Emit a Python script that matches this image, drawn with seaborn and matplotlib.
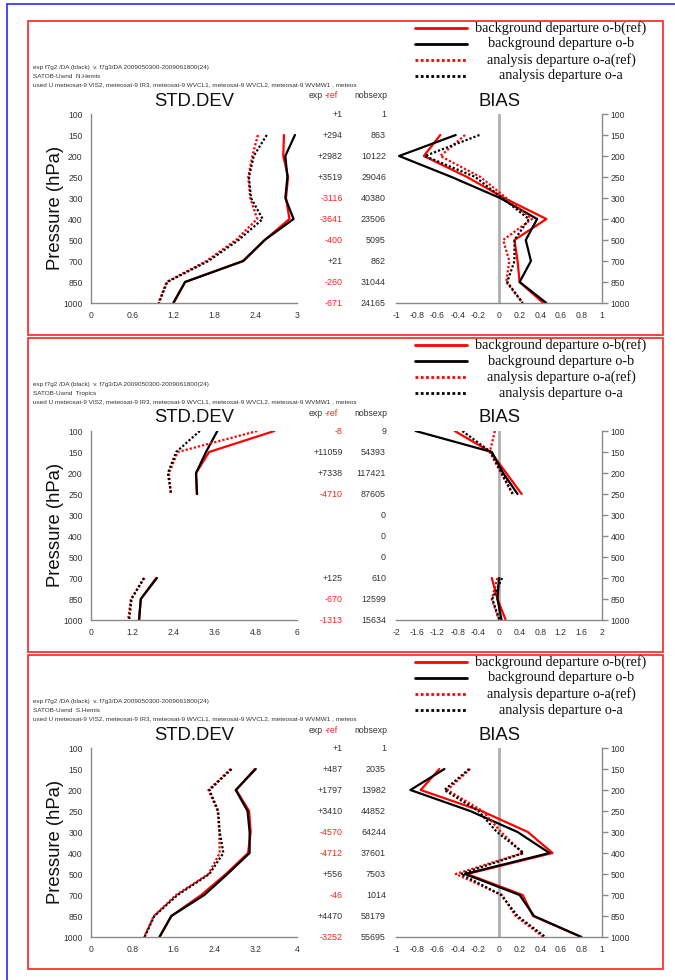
import numpy as np
import pandas as pd
import matplotlib
matplotlib.use("Agg")
import matplotlib.pyplot as plt
import matplotlib.transforms as mtransforms
from matplotlib.lines import Line2D
from matplotlib.patches import Rectangle
from matplotlib.ticker import FuncFormatter
import seaborn as sns

nan = np.nan

# ---------------- data ----------------
levels = [100, 150, 200, 250, 300, 400, 500, 700, 850, 1000]
series_names = ["background departure o-b(ref)", "background departure o-b",
                "analysis departure o-a(ref)", "analysis departure o-a"]
regions = ["N.Hemis", "Tropics", "S.Hemis"]

# N.Hemis
nh_std_obref = [nan, 2.81, 2.80, 2.87, 2.84, 2.89, 2.53, 2.21, 1.37, 1.20]
nh_std_ob = [nan, 2.97, 2.83, 2.86, 2.83, 2.95, 2.53, 2.22, 1.37, 1.20]
nh_std_oaref = [nan, 2.43, 2.35, 2.29, 2.32, 2.42, 2.11, 1.68, 1.10, 0.98]
nh_std_oa = [nan, 2.56, 2.37, 2.30, 2.33, 2.50, 2.15, 1.71, 1.11, 0.99]
nh_bias_obref = [nan, -0.57, -0.73, -0.31, 0.05, 0.46, 0.15, 0.18, 0.20, 0.43]
nh_bias_ob = [nan, -0.42, -0.97, -0.46, 0.01, 0.37, 0.26, 0.31, 0.20, 0.46]
nh_bias_oaref = [nan, -0.33, -0.57, -0.18, 0.07, 0.32, 0.04, 0.10, 0.07, 0.23]
nh_bias_oa = [nan, -0.19, -0.72, -0.23, 0.03, 0.29, 0.15, 0.15, 0.08, 0.23]
nh_expref = ["+1", "+294", "+2982", "+3519", "-3116", "-3641", "-400", "+21", "-260", "-671"]
nh_nobs = ["1", "863", "10122", "29046", "40380", "23506", "5095", "862", "31044", "24165"]

# Tropics
tr_std_obref = [5.34, 3.44, 3.06, 3.08, nan, nan, nan, 1.90, 1.45, 1.40]
tr_std_ob = [3.68, 3.35, 3.06, 3.09, nan, nan, nan, 1.92, 1.45, 1.40]
tr_std_oaref = [4.84, 2.53, 2.27, 2.33, nan, nan, nan, 1.56, 1.16, 1.08]
tr_std_oa = [3.17, 2.48, 2.24, 2.33, nan, nan, nan, 1.54, 1.18, 1.11]
tr_bias_obref = [-0.86, -0.16, 0.14, 0.44, nan, nan, nan, -0.14, -0.03, 0.13]
tr_bias_ob = [-1.62, -0.14, 0.08, 0.36, nan, nan, nan, 0.00, -0.03, 0.05]
tr_bias_oaref = [-0.08, -0.18, 0.04, 0.26, nan, nan, nan, -0.03, -0.14, 0.00]
tr_bias_oa = [-0.71, -0.16, 0.05, 0.27, nan, nan, nan, 0.06, -0.13, 0.01]
tr_expref = ["-8", "+11059", "+7338", "-4710", "", "", "", "+125", "-670", "-1313"]
tr_nobs = ["9", "54393", "117421", "87605", "0", "0", "0", "610", "12599", "15634"]

# S.Hemis
sh_std_obref = [nan, 3.18, 2.82, 3.07, 3.10, 3.05, 2.62, 2.14, 1.56, 1.33]
sh_std_ob = [nan, 3.20, 2.81, 3.04, 3.08, 3.08, 2.65, 2.20, 1.56, 1.33]
sh_std_oaref = [nan, 2.71, 2.28, 2.46, 2.49, 2.50, 2.28, 1.65, 1.22, 1.03]
sh_std_oa = [nan, 2.73, 2.30, 2.47, 2.50, 2.57, 2.30, 1.68, 1.23, 1.04]
sh_bias_obref = [nan, -0.58, -0.76, -0.17, 0.28, 0.52, -0.31, 0.23, 0.33, 0.80]
sh_bias_ob = [nan, -0.53, -0.86, -0.28, 0.18, 0.49, -0.33, 0.20, 0.34, 0.80]
sh_bias_oaref = [nan, -0.28, -0.50, -0.16, 0.02, 0.23, -0.42, 0.03, 0.16, 0.43]
sh_bias_oa = [nan, -0.29, -0.53, -0.20, -0.02, 0.24, -0.37, 0.02, 0.18, 0.45]
sh_expref = ["+1", "+487", "+1797", "+3410", "-4570", "-4712", "+556", "-46", "+4470", "-3252"]
sh_nobs = ["1", "2035", "13982", "44852", "64244", "37601", "7503", "1014", "58179", "55695"]

std_ticks = [[0, 0.6, 1.2, 1.8, 2.4, 3],
             [0, 1.2, 2.4, 3.6, 4.8, 6],
             [0, 0.8, 1.6, 2.4, 3.2, 4]]
bias_ticks = [[-1, -0.8, -0.6, -0.4, -0.2, 0, 0.2, 0.4, 0.6, 0.8, 1],
              [-2, -1.6, -1.2, -0.8, -0.4, 0, 0.4, 0.8, 1.2, 1.6, 2],
              [-1, -0.8, -0.6, -0.4, -0.2, 0, 0.2, 0.4, 0.6, 0.8, 1]]

panels = [
    dict(std=[nh_std_obref, nh_std_ob, nh_std_oaref, nh_std_oa],
         bias=[nh_bias_obref, nh_bias_ob, nh_bias_oaref, nh_bias_oa],
         expref=nh_expref, nobs=nh_nobs),
    dict(std=[tr_std_obref, tr_std_ob, tr_std_oaref, tr_std_oa],
         bias=[tr_bias_obref, tr_bias_ob, tr_bias_oaref, tr_bias_oa],
         expref=tr_expref, nobs=tr_nobs),
    dict(std=[sh_std_obref, sh_std_ob, sh_std_oaref, sh_std_oa],
         bias=[sh_bias_obref, sh_bias_ob, sh_bias_oaref, sh_bias_oa],
         expref=sh_expref, nobs=sh_nobs),
]

header1 = "exp f7g2 /DA (black)  v. f7g3/DA 2009050300-2009061800(24)"
header3 = ("used U meteosat-9 VIS2, meteosat-9 IR3, meteosat-9 WVCL1, "
           "meteosat-9 WVCL2, meteosat-9 WVMW1 , meteos")

# ---------------- style ----------------
sns.set_style("white")
plt.rcParams["font.family"] = ["Liberation Sans", "DejaVu Sans"]

colors = {series_names[0]: "#ff0000", series_names[1]: "#000000",
          series_names[2]: "#ff0000", series_names[3]: "#000000"}
dot = (1.0, 0.9)
dashes = {series_names[0]: "", series_names[1]: "",
          series_names[2]: dot, series_names[3]: dot}

W, H = 675, 980
fig = plt.figure(figsize=(W / 100, H / 100), dpi=100)


def fx(x):
    return x / W


def fy(y):
    return 1 - y / H


def long_df(vals_list):
    rows = []
    for name, vals in zip(series_names, vals_list):
        seg = 0
        for i, v in enumerate(vals):
            if np.isnan(v):
                seg += 1
                continue
            rows.append(dict(series=name, pos=i, value=v, seg=seg))
    return pd.DataFrame(rows)


def fmt(v, p):
    s = f"{v:.1f}".rstrip("0").rstrip(".")
    return "0" if s in ("-0", "") else s


AX_GRAY = "#8a8a8a"
TXT_GRAY = "#333333"

# blue outer frame
fig.add_artist(Line2D([fx(7), fx(7)], [fy(4), 0], transform=fig.transFigure,
                      color="#3a3aff", lw=1.3))
fig.add_artist(Line2D([fx(7), 1], [fy(4), fy(4)], transform=fig.transFigure,
                      color="#3a3aff", lw=1.3))

for k, pan in enumerate(panels):
    off = 317 * k
    # red panel frame
    fig.add_artist(Rectangle((fx(28), fy(335 + off)), (663 - 28) / W, (335 - 21) / H,
                             transform=fig.transFigure, fill=False,
                             ec="#ff3030", lw=1.3))
    # header text
    fig.text(fx(33), fy(67 + off), header1, fontsize=4.6, color=TXT_GRAY, va="center")
    fig.text(fx(33), fy(76 + off), "SATOB-Uwnd  " + regions[k], fontsize=4.6,
             color=TXT_GRAY, va="center")
    fig.text(fx(33), fy(85 + off), header3, fontsize=4.6, color=TXT_GRAY, va="center")

    # legend (manual)
    for j, name in enumerate(series_names):
        yy = fy(28 + 16 * j + off)
        ls = "-" if j < 2 else (0, dot)
        fig.add_artist(Line2D([fx(415), fx(467)], [yy, yy], transform=fig.transFigure,
                              color=colors[name], lw=2.0, linestyle=ls))
        fig.text(fx(561), yy, name, family=["Liberation Serif", "DejaVu Serif"],
                 fontsize=10.2, ha="center", va="center", color="#111111")

    top, bot = 114 + off, 303 + off
    ax_s = fig.add_axes([fx(91), fy(bot), (297 - 91) / W, (bot - top) / H])
    ax_b = fig.add_axes([fx(396), fy(bot), (602 - 396) / W, (bot - top) / H])

    for ax, vals, ticks in ((ax_s, pan["std"], std_ticks[k]),
                            (ax_b, pan["bias"], bias_ticks[k])):
        df = long_df(vals)
        if ax is ax_b:
            ax.axvline(0, color="#b0b0b0", lw=2.0, zorder=0)
        sns.lineplot(data=df, x="value", y="pos", hue="series", style="series",
                     units="seg", estimator=None, sort=False, orient="y",
                     hue_order=series_names, style_order=series_names,
                     palette=colors, dashes=dashes, linewidth=1.6,
                     legend=False, ax=ax)
        ax.set_xlabel("")
        ax.set_ylabel("")
        ax.set_ylim(len(levels) - 1, 0)
        ax.set_yticks(range(len(levels)))
        ax.set_yticklabels([str(l) for l in levels])
        ax.set_xlim(ticks[0], ticks[-1])
        ax.set_xticks(ticks)
        ax.xaxis.set_major_formatter(FuncFormatter(fmt))
        ax.set_facecolor("none")
        ax.tick_params(axis="both", direction="out", length=4, width=1,
                       color=AX_GRAY, labelsize=6.2, labelcolor=TXT_GRAY, pad=2)
        for sp in ax.spines.values():
            sp.set_color(AX_GRAY)
            sp.set_linewidth(1.0)
        ax.spines["top"].set_visible(False)

    ax_s.spines["right"].set_visible(False)
    ax_b.spines["left"].set_visible(False)
    ax_b.yaxis.tick_right()
    ax_b.tick_params(axis="y", left=False, right=True)

    # titles
    fig.text(fx(194), fy(101 + off), "STD.DEV", fontsize=13.3, ha="center",
             va="center", color="#111111")
    fig.text(fx(499), fy(101 + off), "BIAS", fontsize=13.3, ha="center",
             va="center", color="#111111")
    fig.text(fx(55), fy(208 + off), "Pressure (hPa)", fontsize=13.3, rotation=90,
             ha="center", va="center", color="#111111")

    # middle columns
    fig.text(fx(323), fy(96 + off), "exp", fontsize=6.2, ha="right", va="center",
             color=TXT_GRAY)
    fig.text(fx(325), fy(96 + off), "-ref", fontsize=6.2, ha="left", va="center",
             color="#ff2020")
    fig.text(fx(354), fy(96 + off), "nobsexp", fontsize=6.2, ha="left", va="center",
             color=TXT_GRAY)
    tr = mtransforms.blended_transform_factory(fig.transFigure, ax_s.transData)
    for i, (d, n) in enumerate(zip(pan["expref"], pan["nobs"])):
        col = "#ff2020" if d.startswith("-") else TXT_GRAY
        ax_s.text(fx(343), i, d, transform=tr, fontsize=6.4, ha="right",
                  va="center", color=col, clip_on=False)
        ax_s.text(fx(386), i, n, transform=tr, fontsize=6.4, ha="right",
                  va="center", color=TXT_GRAY, clip_on=False)

fig.savefig("out.png", dpi=100)
